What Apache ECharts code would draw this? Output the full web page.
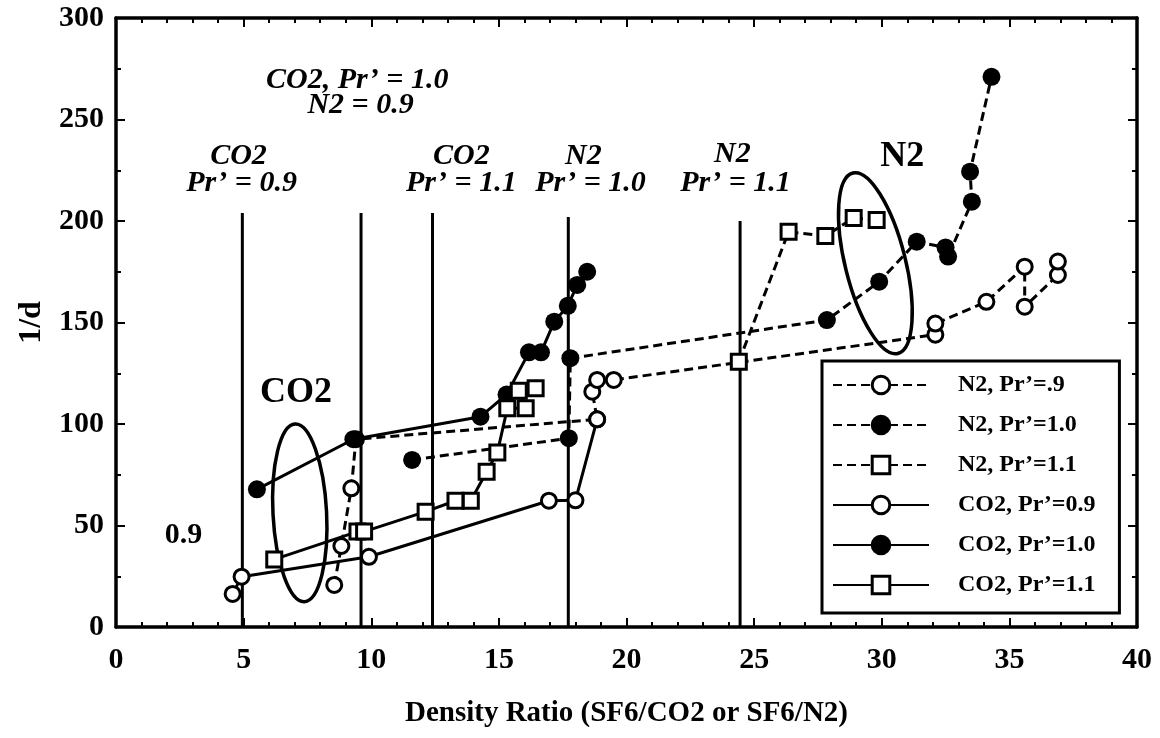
<!DOCTYPE html>
<html><head><meta charset="utf-8">
<script src="https://cdn.jsdelivr.net/npm/echarts@6/dist/echarts.min.js"></script>
<style>html,body{margin:0;padding:0;background:#fff}#c{width:1160px;height:738px}</style>
</head><body><div id="c"></div>
<script>
// ---------- data ----------
const xTickValues = [0, 5, 10, 15, 20, 25, 30, 35, 40];
const yTickValues = [0, 50, 100, 150, 200, 250, 300];

const seriesNames = ["N2, Pr\u2019=.9", "N2, Pr\u2019=1.0", "N2, Pr\u2019=1.1",
                     "CO2, Pr\u2019=0.9", "CO2, Pr\u2019=1.0", "CO2, Pr\u2019=1.1"];

const n2Pr09 = [[8.55,20.7],[8.83,39.9],[9.22,68.3],[9.4,92.5],[18.85,102.3],[18.66,115.9],
                [18.85,121.7],[19.5,121.7],[32.1,144],[32.1,149.5],[34.1,160.2],[35.6,177.5],
                [35.6,157.8],[36.9,173.4],[36.9,180]];
const n2Pr10 = [[11.6,82.3],[17.74,93],[17.8,132.4],[27.85,151.2],[29.9,170.1],[31.37,189.8],
                [32.5,187],[32.6,182.5],[33.53,209.5],[33.46,224.3],[34.3,271]];
const n2Pr11 = [[24.4,130.7],[26.35,194.7],[27.79,192.6],[28.9,201.5],[29.8,200.5]];
const co2Pr09 = [[4.57,16.3],[4.92,24.8],[9.91,34.6],[16.96,62.2],[18.0,62.4],[18.85,102.3]];
const co2Pr10 = [[5.52,67.8],[9.3,92.5],[14.28,103.6],[15.3,114.5],[16.18,135.3],[16.65,135.3],
                 [17.17,150.4],[17.7,158.2],[18.07,168.5],[18.46,175]];
const co2Pr11 = [[6.2,33.3],[9.46,47],[9.72,47],[12.13,56.8],[13.3,62.2],[13.9,62.2],[14.52,76.5],
                 [14.94,85.9],[15.33,107.7],[16.05,107.7],[15.78,116.4],[16.44,117.6]];

// vertical reference lines (density ratio, top of line in 1/d units)
const refLineX   = [4.95, 9.6, 12.4, 17.72, 24.45];
const refLineTop = [204, 204, 204, 202, 200];

// ellipses: centre x, centre y, semi-axis x, semi-axis y (data units), tilt in degrees
const ellipseCX   = [7.2, 29.75];
const ellipseCY   = [56.2, 179.2];
const ellipseRX   = [1.05, 1.18];
const ellipseRY   = [43.8, 45.8];
const ellipseTilt = [3, 14];

// italic annotations (data coordinates)
const noteText = ["CO2, Pr\u2019 = 1.0", "N2 = 0.9", "CO2", "Pr\u2019 = 0.9", "CO2", "Pr\u2019 = 1.1",
                  "N2", "Pr\u2019 = 1.0", "N2", "Pr\u2019 = 1.1"];
const noteX = [9.45, 9.58, 4.80, 4.92, 13.53, 13.53, 18.31, 18.59, 24.15, 24.27];
const noteY = [269.5, 257.1, 231.9, 218.6, 231.9, 218.6, 231.9, 218.6, 233.0, 218.6];

// upright bold labels
const bigText = ["CO2", "N2", "0.9"];
const bigX = [7.05, 30.8, 2.64];
const bigY = [115.3, 231.5, 45.3];
const bigSize = [36, 36, 30];

// ---------- chart ----------
const FONT = '"Liberation Serif", "Times New Roman", serif';
const chart = echarts.init(document.getElementById('c'), null, {renderer: 'canvas'});

function lineSeries(name, data, dashed, symbol, filled, size) {
  return {
    name: name, type: 'line', data: data, xAxisIndex: 0, yAxisIndex: 0,
    symbol: symbol, symbolSize: size, showAllSymbol: true,
    lineStyle: {color: '#000', width: 3, type: dashed ? [9, 5] : 'solid'},
    itemStyle: {color: filled ? '#000' : '#fff', borderColor: '#000', borderWidth: filled ? 0 : 3},
    emphasis: {disabled: true}, silent: true, animation: false, z: 4
  };
}

const axisCommon = {
  axisLine: {show: true, onZero: false, lineStyle: {color: '#000', width: 3.5}},
  axisTick: {show: true, inside: true, length: 9, lineStyle: {color: '#000', width: 2}},
  minorTick: {show: true, length: 5, lineStyle: {color: '#000', width: 2}},
  splitLine: {show: false}, minorSplitLine: {show: false}
};

const option = {
  backgroundColor: '#fff',
  animation: false,
  grid: {left: 116, right: 23, top: 18, bottom: 111, containLabel: false},
  xAxis: [
    Object.assign({}, axisCommon, {
      type: 'value', position: 'bottom', min: 0, max: 40, interval: 5,
      minorTick: Object.assign({}, axisCommon.minorTick, {splitNumber: 5}),
      axisLabel: {color: '#000', fontFamily: FONT, fontWeight: 'bold', fontSize: 30, margin: 18,
                  formatter: v => xTickValues.includes(v) ? String(v) : ''},
      name: 'Density Ratio (SF6/CO2 or SF6/N2)', nameLocation: 'middle', nameGap: 72,
      nameTextStyle: {color: '#000', fontFamily: FONT, fontWeight: 'bold', fontSize: 29}
    }),
    Object.assign({}, axisCommon, {
      type: 'value', position: 'top', min: 0, max: 40, interval: 5,
      minorTick: Object.assign({}, axisCommon.minorTick, {splitNumber: 5}),
      axisLabel: {show: false}
    })
  ],
  yAxis: [
    Object.assign({}, axisCommon, {
      type: 'value', position: 'left', min: 0, max: 300, interval: 50,
      minorTick: Object.assign({}, axisCommon.minorTick, {splitNumber: 2}),
      axisLabel: {color: '#000', fontFamily: FONT, fontWeight: 'bold', fontSize: 30, margin: 12,
                  formatter: v => yTickValues.includes(v) ? String(v) : ''},
      name: '1/d', nameLocation: 'middle', nameGap: 57,
      nameTextStyle: {color: '#000', fontFamily: FONT, fontWeight: 'bold', fontSize: 32}
    }),
    Object.assign({}, axisCommon, {
      type: 'value', position: 'right', min: 0, max: 300, interval: 50,
      minorTick: Object.assign({}, axisCommon.minorTick, {splitNumber: 2}),
      axisLabel: {show: false}
    })
  ],
  legend: {
    orient: 'vertical', left: 822, top: 361,
    itemWidth: 96, itemHeight: 22, itemGap: 16,
    padding: [12, 24, 16, 10],
    borderColor: '#000', borderWidth: 3, backgroundColor: '#fff',
    textStyle: {color: '#000', fontFamily: FONT, fontWeight: 'bold', fontSize: 24,
                lineHeight: 24, padding: [0, 0, 0, 24]},
    itemStyle: {borderWidth: 3},
    selectedMode: false,
    data: seriesNames,
    z: 10
  },
  series: [
    {
      type: 'custom', name: 'refLines', silent: true, animation: false, z: 2,
      xAxisIndex: 0, yAxisIndex: 0,
      data: refLineX.map((x, i) => [x, refLineTop[i]]),
      renderItem: function (params, api) {
        const p0 = api.coord([api.value(0), 0]);
        const p1 = api.coord([api.value(0), api.value(1)]);
        return {type: 'line', shape: {x1: p0[0], y1: p0[1], x2: p1[0], y2: p1[1]},
                style: {stroke: '#000', lineWidth: 3}};
      }
    },
    {
      type: 'custom', name: 'ellipses', silent: true, animation: false, z: 3,
      xAxisIndex: 0, yAxisIndex: 0,
      data: ellipseCX.map((x, i) => [x, ellipseCY[i], ellipseRX[i], ellipseRY[i], ellipseTilt[i]]),
      renderItem: function (params, api) {
        const c = api.coord([api.value(0), api.value(1)]);
        const s = api.size([api.value(2), api.value(3)]);
        return {type: 'ellipse', x: c[0], y: c[1], rotation: api.value(4) * Math.PI / 180,
                shape: {cx: 0, cy: 0, rx: s[0], ry: s[1]},
                style: {fill: 'none', stroke: '#000', lineWidth: 3.5}};
      }
    },
    lineSeries(seriesNames[0], n2Pr09, true, 'circle', false, 15),
    lineSeries(seriesNames[1], n2Pr10, true, 'circle', true, 18),
    lineSeries(seriesNames[2], n2Pr11, true, 'rect', false, 15),
    lineSeries(seriesNames[3], co2Pr09, false, 'circle', false, 15),
    lineSeries(seriesNames[4], co2Pr10, false, 'circle', true, 18),
    lineSeries(seriesNames[5], co2Pr11, false, 'rect', false, 15),
    {
      type: 'custom', name: 'notes', silent: true, animation: false, z: 5,
      xAxisIndex: 0, yAxisIndex: 0,
      data: noteX.map((x, i) => [x, noteY[i]]),
      renderItem: function (params, api) {
        const p = api.coord([api.value(0), api.value(1)]);
        return {type: 'text', x: p[0], y: p[1],
                style: {text: noteText[params.dataIndex], fill: '#000', fontFamily: FONT,
                        fontWeight: 'bold', fontStyle: 'italic', fontSize: 30,
                        align: 'center', verticalAlign: 'middle'}};
      }
    },
    {
      type: 'custom', name: 'bigLabels', silent: true, animation: false, z: 5,
      xAxisIndex: 0, yAxisIndex: 0,
      data: bigX.map((x, i) => [x, bigY[i]]),
      renderItem: function (params, api) {
        const p = api.coord([api.value(0), api.value(1)]);
        return {type: 'text', x: p[0], y: p[1],
                style: {text: bigText[params.dataIndex], fill: '#000', fontFamily: FONT,
                        fontWeight: 'bold', fontSize: bigSize[params.dataIndex],
                        align: 'center', verticalAlign: 'middle'}};
      }
    }
  ]
};
chart.setOption(option);
</script>
</body></html>
